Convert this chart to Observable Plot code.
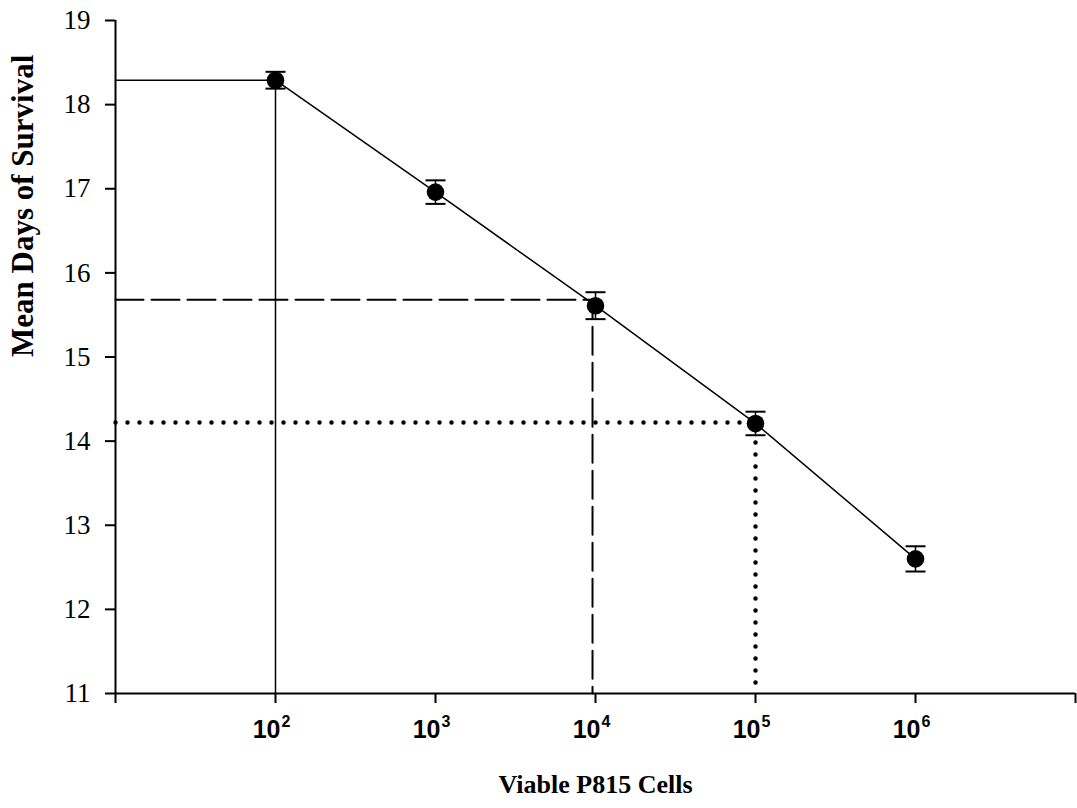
<!DOCTYPE html>
<html>
<head>
<meta charset="utf-8">
<script src="https://cdn.jsdelivr.net/npm/d3@7"></script>
<script src="https://cdn.jsdelivr.net/npm/@observablehq/plot@0.6"></script>
<style>
  html, body { margin: 0; padding: 0; background: #fff; }
</style>
</head>
<body>
<div id="chart"></div>
<script>
// Data
const cells = [1e2, 1e3, 1e4, 1e5, 1e6];
const meanDays = [18.29, 16.96, 15.61, 14.21, 12.60];
const sem = [0.10, 0.14, 0.16, 0.14, 0.15];

// Reference drop lines (x intercept, y level)
const refX = [1e2, 9580, 1e5];
const refY = [18.29, 15.68, 14.22];

// Axes
const xTickMarks = [1e1, 1e2, 1e3, 1e4, 1e5, 1e6, 1e7];
const xLabelTicks = [1e2, 1e3, 1e4, 1e5, 1e6];
const xLabelExp = ["2", "3", "4", "5", "6"];
const yTicks = [11, 12, 13, 14, 15, 16, 17, 18, 19];
const xTitle = "Viable P815 Cells";
const yTitle = "Mean Days of Survival";

const xDomain = [1e1, 1e7];
const yDomain = [11, 19];

const points = cells.map((c, i) => ({x: c, y: meanDays[i], lo: meanDays[i] - sem[i], hi: meanDays[i] + sem[i]}));
const refPath = (i) => [
  {x: xDomain[0], y: refY[i]},
  {x: refX[i], y: refY[i]},
  {x: refX[i], y: yDomain[0]}
];
const xLabels = xLabelTicks.map((t, i) => ({x: t, exp: xLabelExp[i]}));

const capSymbol = {
  draw(context, size) {
    const w = Math.sqrt(size / Math.PI);
    context.moveTo(-w, 0);
    context.lineTo(w, 0);
  }
};

const serif = "'Liberation Serif', 'Times New Roman', serif";
const sansBold = "'Liberation Sans', Arial, sans-serif";

const chart = Plot.plot({
  width: 1077,
  height: 808,
  marginLeft: 115,
  marginRight: 2,
  marginTop: 20,
  marginBottom: 115,
  style: {fontFamily: serif, fontSize: "26px", color: "black", background: "white"},
  x: {type: "log", domain: xDomain},
  y: {domain: yDomain},
  marks: [
    // reference lines
    Plot.line(refPath(0), {x: "x", y: "y", stroke: "black", strokeWidth: 1.5}),
    Plot.line(refPath(1), {x: "x", y: "y", stroke: "black", strokeWidth: 2, strokeDasharray: "28,8"}),
    Plot.line(refPath(2), {x: "x", y: "y", stroke: "black", strokeWidth: 4.5, strokeDasharray: "0,12", strokeLinecap: "round"}),
    // data line
    Plot.line(points, {x: "x", y: "y", stroke: "black", strokeWidth: 1.5}),
    // error bars
    Plot.ruleX(points, {x: "x", y1: "lo", y2: "hi", stroke: "black", strokeWidth: 1.5}),
    Plot.dot(points, {x: "x", y: "hi", symbol: capSymbol, r: 10, stroke: "black", strokeWidth: 2}),
    Plot.dot(points, {x: "x", y: "lo", symbol: capSymbol, r: 10, stroke: "black", strokeWidth: 2}),
    Plot.dot(points, {x: "x", y: "y", r: 8.8, fill: "black"}),
    // axes
    Plot.axisY({ticks: yTicks, tickSize: 10, strokeWidth: 2, label: null, tickFormat: () => ""}),
    Plot.axisX({ticks: xTickMarks, tickSize: 10, strokeWidth: 2, label: null, tickFormat: () => ""}),
    Plot.ruleX([xDomain[0]], {y1: yDomain[0], y2: yDomain[1], stroke: "black", strokeWidth: 2}),
    Plot.ruleY([yDomain[0]], {stroke: "black", strokeWidth: 2}),
    // y tick labels
    Plot.text(yTicks, {y: d => d, text: d => String(d), frameAnchor: "left", textAnchor: "end", dx: -25, fontFamily: serif, fontSize: 27}),
    // x tick labels 10^n
    Plot.text(xLabels, {x: "x", text: () => "10", frameAnchor: "bottom", textAnchor: "end", dx: 5, dy: 44, fontFamily: sansBold, fontWeight: "bold", fontSize: 25}),
    Plot.text(xLabels, {x: "x", text: "exp", frameAnchor: "bottom", textAnchor: "start", dx: 6, dy: 33, fontFamily: sansBold, fontWeight: "bold", fontSize: 16}),
    // axis titles
    Plot.text([xTitle], {text: d => d, frameAnchor: "bottom", dy: 99, fontFamily: serif, fontWeight: "bold", fontSize: 26}),
    Plot.text([yTitle], {text: d => d, frameAnchor: "left", rotate: -90, dx: -92, fontFamily: serif, fontWeight: "bold", fontSize: 31})
  ]
});
document.getElementById("chart").appendChild(chart);
</script>
</body>
</html>
